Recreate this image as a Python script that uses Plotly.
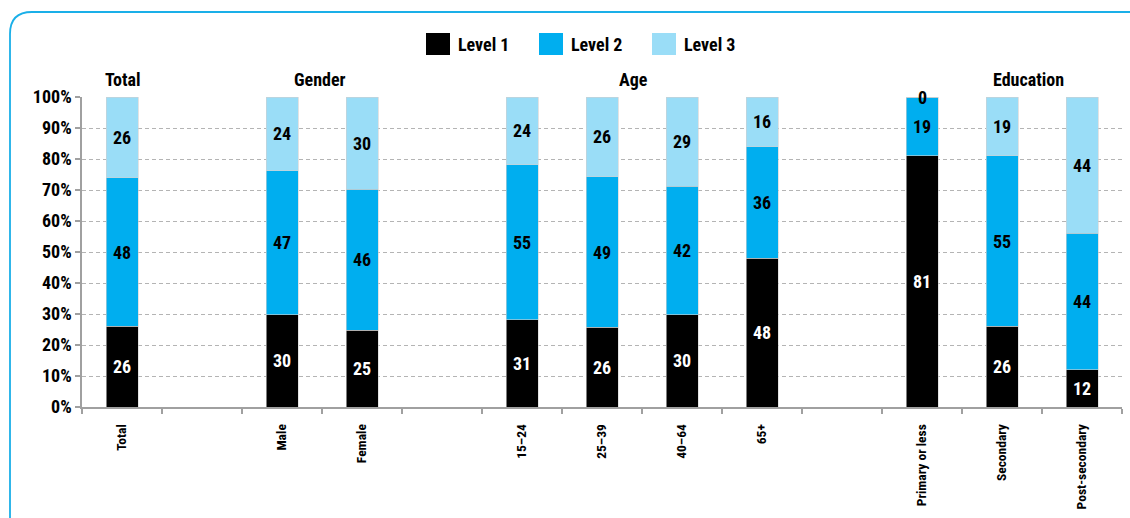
import plotly.graph_objects as go

# ---------------- data ----------------
groups = ["Total", "Gender", "Age", "Education"]
group_members = [
    ["Total"],
    ["Male", "Female"],
    ["15–24", "25–39", "40–64", "65+"],
    ["Primary or less", "Secondary", "Post-secondary"],
]
series_names = ["Level 1", "Level 2", "Level 3"]
level1 = {"Total": 26, "Male": 30, "Female": 25, "15–24": 31, "25–39": 26, "40–64": 30,
          "65+": 48, "Primary or less": 81, "Secondary": 26, "Post-secondary": 12}
level2 = {"Total": 48, "Male": 47, "Female": 46, "15–24": 55, "25–39": 49, "40–64": 42,
          "65+": 36, "Primary or less": 19, "Secondary": 55, "Post-secondary": 44}
level3 = {"Total": 26, "Male": 24, "Female": 30, "15–24": 24, "25–39": 26, "40–64": 29,
          "65+": 16, "Primary or less": 0, "Secondary": 19, "Post-secondary": 44}
y_tick_values = [0, 10, 20, 30, 40, 50, 60, 70, 80, 90, 100]
y_tick_labels = [f"{v}%" for v in y_tick_values]

# ---------------- styling ----------------
colors = ["#000000", "#00AEEF", "#9ADDF7"]
text_colors = ["#FFFFFF", "#000000", "#000000"]
FONT = "Noto Sans Condensed, Roboto Condensed, Open Sans Condensed, Noto Sans, Open Sans, sans-serif"
W, H = 1130, 518
ML, MR, MT, MB = 82, 8, 97, 111
PW, PH = W - ML - MR, H - MT - MB


def fnt(size, color="#000"):
    return dict(family=FONT, size=size, color=color, weight="bold")


def px_x(p):
    return (p - ML) / PW


def px_y(p):
    return (H - MB - p) / PH


# category list with spacer slots between groups
categories = []
for gi, members in enumerate(group_members):
    if gi > 0:
        categories.append(" " * gi)
    categories.extend(members)

fig = go.Figure()
for name, data, col, tcol in zip(series_names, [level1, level2, level3], colors, text_colors):
    ys = [data.get(c) for c in categories]
    txt = ["" if (v is None or v == 0) else str(v) for v in ys]
    fig.add_trace(go.Bar(
        x=categories, y=ys, name=name, text=txt,
        textposition="inside", insidetextanchor="middle", textangle=0,
        textfont=fnt(18, tcol),
        marker=dict(color=col, line=dict(color="#d0d0d0", width=0.6)),
        showlegend=False, hoverinfo="x+y+name",
    ))

annotations = []
# zero values drawn at top of bar
for c in categories:
    v = level3.get(c)
    if v == 0:
        annotations.append(dict(x=c, y=100, xref="x", yref="y", text=str(v), showarrow=False,
                                yanchor="middle", font=fnt(18)))

# group headers
header_shift = [0, -2, -9, 26]
for g, members, sh in zip(groups, group_members, header_shift):
    idx = [categories.index(m) for m in members]
    xc = sum(idx) / len(idx)
    annotations.append(dict(x=xc, y=100, xref="x", yref="y", text=g, showarrow=False,
                            yanchor="bottom", yshift=5, xshift=sh, font=fnt(18)))

# manual legend
shapes = []
leg_x0 = 426
for i, (name, col) in enumerate(zip(series_names, colors)):
    x0 = leg_x0 + i * 113
    shapes.append(dict(type="rect", xref="paper", yref="paper",
                       x0=px_x(x0), x1=px_x(x0 + 24), y0=px_y(55), y1=px_y(33),
                       fillcolor=col, line=dict(width=0)))
    annotations.append(dict(x=px_x(x0 + 30), y=px_y(44), xref="paper", yref="paper", text=name,
                            showarrow=False, xanchor="left", yanchor="middle", font=fnt(18)))

# frame (rounded top-left corner)
path = (f"M {px_x(10)},{px_y(530)} L {px_x(10)},{px_y(34)} "
        f"Q {px_x(10)},{px_y(12)} {px_x(32)},{px_y(12)} L {px_x(1140)},{px_y(12)}")
shapes.append(dict(type="path", xref="paper", yref="paper", path=path,
                   line=dict(color="#1AAFE8", width=1.8)))

fig.update_layout(
    width=W, height=H, autosize=False,
    margin=dict(l=ML, r=MR, t=MT, b=MB, pad=0),
    barmode="stack", barnorm="percent", bargap=0.6,
    plot_bgcolor="#FFFFFF", paper_bgcolor="#FFFFFF",
    font=dict(family=FONT, color="#000"),
    uniformtext=dict(minsize=18, mode="show"),
    annotations=annotations, shapes=shapes,
    showlegend=False,
)
fig.update_xaxes(
    type="category", categoryorder="array", categoryarray=categories,
    range=[-0.5, len(categories) - 0.5], automargin=False,
    tickangle=-90, tickson="boundaries", ticks="outside", ticklen=5,
    tickcolor="#a0a0a0", tickwidth=1.5, ticklabelstandoff=10,
    showline=True, linecolor="#a0a0a0", linewidth=1.5, showgrid=False,
    tickfont=fnt(13.5),
)
fig.update_yaxes(
    range=[0, 100], tickmode="array", tickvals=y_tick_values, ticktext=y_tick_labels,
    automargin=False,
    ticks="outside", ticklen=5, tickcolor="#a0a0a0", tickwidth=1.5,
    showline=True, linecolor="#a0a0a0", linewidth=1.5,
    showgrid=True, gridcolor="#b4b4b4", griddash="4px,3px", gridwidth=1,
    zeroline=False, layer="below traces",
    tickfont=fnt(18),
)

post = (
    "document.body.style.margin='0';document.body.style.overflow='hidden';"
    "var s=document.createElement('style');"
    "s.textContent='svg text{font-stretch:condensed !important;}';"
    "document.head.appendChild(s);"
)
fig.write_html("out.html", post_script=post, config={"displayModeBar": False})
